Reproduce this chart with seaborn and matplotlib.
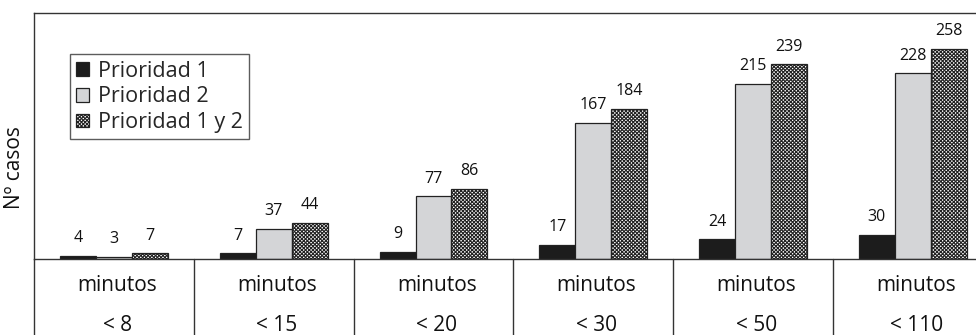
import pandas as pd
import matplotlib
matplotlib.use("Agg")
import matplotlib.pyplot as plt
import matplotlib.transforms as mtransforms
import seaborn as sns

# data
tramos = ['< 8', '< 15', '< 20', '< 30', '< 50', '< 110']
series = ['Prioridad 1', 'Prioridad 2', 'Prioridad 1 y 2']
prio1 = [4, 7, 9, 17, 24, 30]
prio2 = [3, 37, 77, 167, 215, 228]
prio12 = [7, 44, 86, 184, 239, 258]

df = pd.DataFrame({
    'tramo': tramos * 3,
    'prioridad': [series[0]] * 6 + [series[1]] * 6 + [series[2]] * 6,
    'casos': prio1 + prio2 + prio12,
})

sns.set_style('white')
plt.rcParams['font.family'] = ['Open Sans', 'DejaVu Sans']
plt.rcParams['hatch.color'] = '#111111'
plt.rcParams['hatch.linewidth'] = 0.8

fig = plt.figure(figsize=(9.76, 3.35), dpi=100)
ax = fig.add_axes([34 / 976, 76 / 335, 942 / 976, 246 / 335])

sns.barplot(data=df, x='tramo', y='casos', hue='prioridad', order=tramos,
            hue_order=series, palette=['#1c1c1c', '#d4d5d7', 'white'],
            width=0.675, edgecolor='#222222', linewidth=0.9, saturation=1,
            errorbar=None, legend=False, ax=ax)

for bar in ax.containers[2]:
    bar.set_hatch('xxxxxxxxx')

for cont in ax.containers:
    ax.bar_label(cont, padding=7, fontsize=11.5, color='#111111')

ax.set_xlim(-0.5, 5.395)
ax.set_ylim(0, 302)
ax.set_xticks([])
ax.set_yticks([])
ax.set_xlabel('')
ax.set_ylabel('')
ax.spines['right'].set_visible(False)
for s in ['left', 'top', 'bottom']:
    ax.spines[s].set_color('#333333')
    ax.spines[s].set_linewidth(1.0)

# category "table" under the axis
trans = mtransforms.blended_transform_factory(ax.transData, ax.transAxes)
for i, t in enumerate(tramos):
    ax.text(i + 0.02, -0.106, 'minutos', transform=trans, ha='center', va='center',
            fontsize=15, color='#111111', clip_on=False)
    ax.text(i + 0.02, -0.27, t, transform=trans, ha='center',
            va='center', fontsize=15, color='#111111', clip_on=False)
for i in range(len(tramos)):
    ax.plot([i - 0.5, i - 0.5], [0, -0.32], transform=trans, color='#333333',
            lw=1.0, clip_on=False)

leg = ax.legend(ax.containers, series, loc='upper left', bbox_to_anchor=(0.038, 0.833),
                borderaxespad=0, fontsize=15.5, frameon=True, fancybox=False,
                handlelength=0.6, handleheight=0.6, handletextpad=0.4,
                labelspacing=0.22, borderpad=0.3)
leg.get_frame().set_edgecolor('#333333')
leg.get_frame().set_linewidth(1.0)

fig.text(14 / 976, 1 - 168 / 335, 'Nº casos', rotation=90, ha='center', va='center',
         fontsize=15, color='#111111')

fig.savefig('out.png', dpi=100)
